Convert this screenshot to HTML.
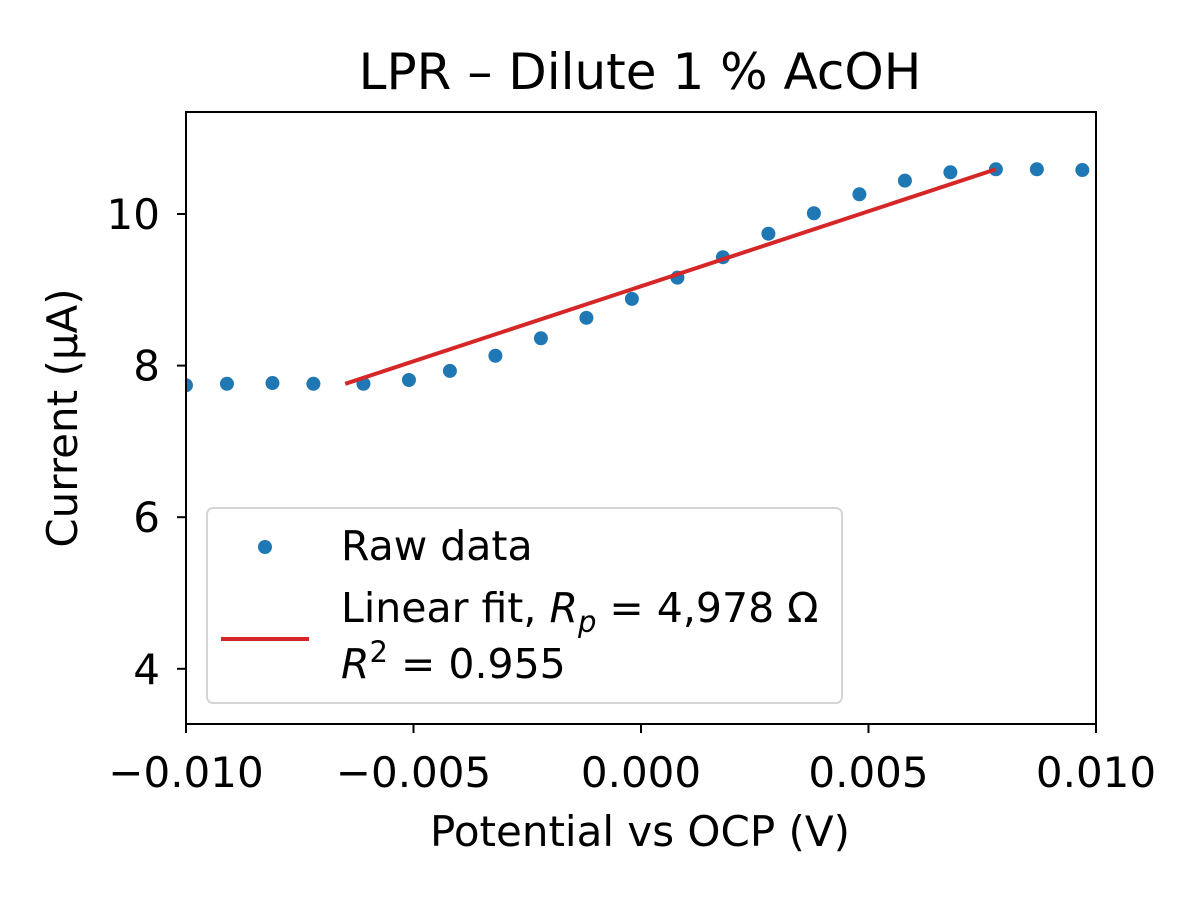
<!DOCTYPE html>
<html><head><meta charset="utf-8"><style>
html,body{margin:0;padding:0;background:#fff;}
svg{display:block;font-family:"DejaVu Sans","Liberation Sans",sans-serif;}
</style></head><body>
<svg id="chart" width="1200" height="900" xmlns="http://www.w3.org/2000/svg">
<defs><clipPath id="clip"><rect x="186" y="112" width="910" height="612"/></clipPath></defs>
<rect width="1200" height="900" fill="#fff"/>
<text x="640" y="89" font-size="50" text-anchor="middle">LPR – Dilute 1 % AcOH</text>
<g id="xticks"></g>
<g id="yticks"></g>
<g id="marks" clip-path="url(#clip)"></g>
<rect x="186" y="112" width="910" height="612" fill="none" stroke="#000" stroke-width="2"/>
<text x="640" y="846" font-size="42" text-anchor="middle">Potential vs OCP (V)</text>
<text transform="translate(77,418) rotate(-90)" font-size="42" text-anchor="middle">Current (μA)</text>
<g>
<rect x="207" y="508" width="635" height="195" rx="6" fill="#fff" fill-opacity="0.8" stroke="#d5d5d5" stroke-width="2"/>
<circle cx="265" cy="547" r="7" fill="#1f77b4"/>
<text x="341" y="560" font-size="41">Raw data</text>
<line x1="221" y1="639" x2="309" y2="639" stroke="#d62728" stroke-width="4"/>
<text x="341" y="622" font-size="41">Linear fit, <tspan font-style="italic">R</tspan><tspan font-style="italic" font-size="29" dy="10">p</tspan><tspan dy="-10"> = 4,978 Ω</tspan></text>
<text x="341" y="678" font-size="41"><tspan font-style="italic">R</tspan><tspan font-size="29" dy="-16">2</tspan><tspan dy="16"> = 0.955</tspan></text>
</g>
</svg>
<script>
const xData = [-0.0100,-0.0091,-0.0081,-0.0072,-0.0061,-0.0051,-0.0042,-0.0032,-0.0022,-0.0012,-0.0002,0.0008,0.0018,0.0028,0.0038,0.0048,0.0058,0.0068,0.0078,0.0087,0.0097];
const yData = [7.74,7.76,7.77,7.76,7.76,7.81,7.93,8.13,8.36,8.63,8.88,9.16,9.43,9.74,10.01,10.26,10.44,10.55,10.59,10.59,10.58];
const fitX = [-0.0065,0.0078];
const fitY = [7.76,10.59];
const xTicks = [-0.010,-0.005,0.000,0.005,0.010];
const xTickLabels = ["−0.010","−0.005","0.000","0.005","0.010"];
const yTicks = [4,6,8,10];
const yTickLabels = ["4","6","8","10"];
const NS="http://www.w3.org/2000/svg";
const sx = v => 186 + (v + 0.010) / 0.020 * 910;
const sy = v => 214 - (v - 10) * 75.8;
function mk(tag, attrs, parent){const e=document.createElementNS(NS,tag);for(const k in attrs)e.setAttribute(k,attrs[k]);parent.appendChild(e);return e;}
const xg=document.getElementById('xticks'), yg=document.getElementById('yticks'), mg=document.getElementById('marks');
xTicks.forEach((t,i)=>{
  const l=mk('line',{x1:sx(t),x2:sx(t),y1:724,y2:733,stroke:'#000','stroke-width':2},xg);
  
  
  const tx=mk('text',{x:sx(t),y:787,'font-size':42,'text-anchor':'middle'},xg);
  tx.textContent=xTickLabels[i];
  
  
});
yTicks.forEach((t,i)=>{
  const l=mk('line',{x1:177,x2:186,y1:sy(t),y2:sy(t),stroke:'#000','stroke-width':2},yg);
  
  
  const tx=mk('text',{x:160,y:sy(t)+15,'font-size':42,'text-anchor':'end'},yg);
  tx.textContent=yTickLabels[i];
  
  
});
xData.forEach((x,i)=>{
  const c=mk('circle',{cx:sx(x),cy:sy(yData[i]),r:7,fill:'#1f77b4'},mg);
  
  
});
const fl=mk('line',{x1:sx(fitX[0]),y1:sy(fitY[0]),x2:sx(fitX[1]),y2:sy(fitY[1]),stroke:'#d62728','stroke-width':4},mg);


</script>
</body></html>
